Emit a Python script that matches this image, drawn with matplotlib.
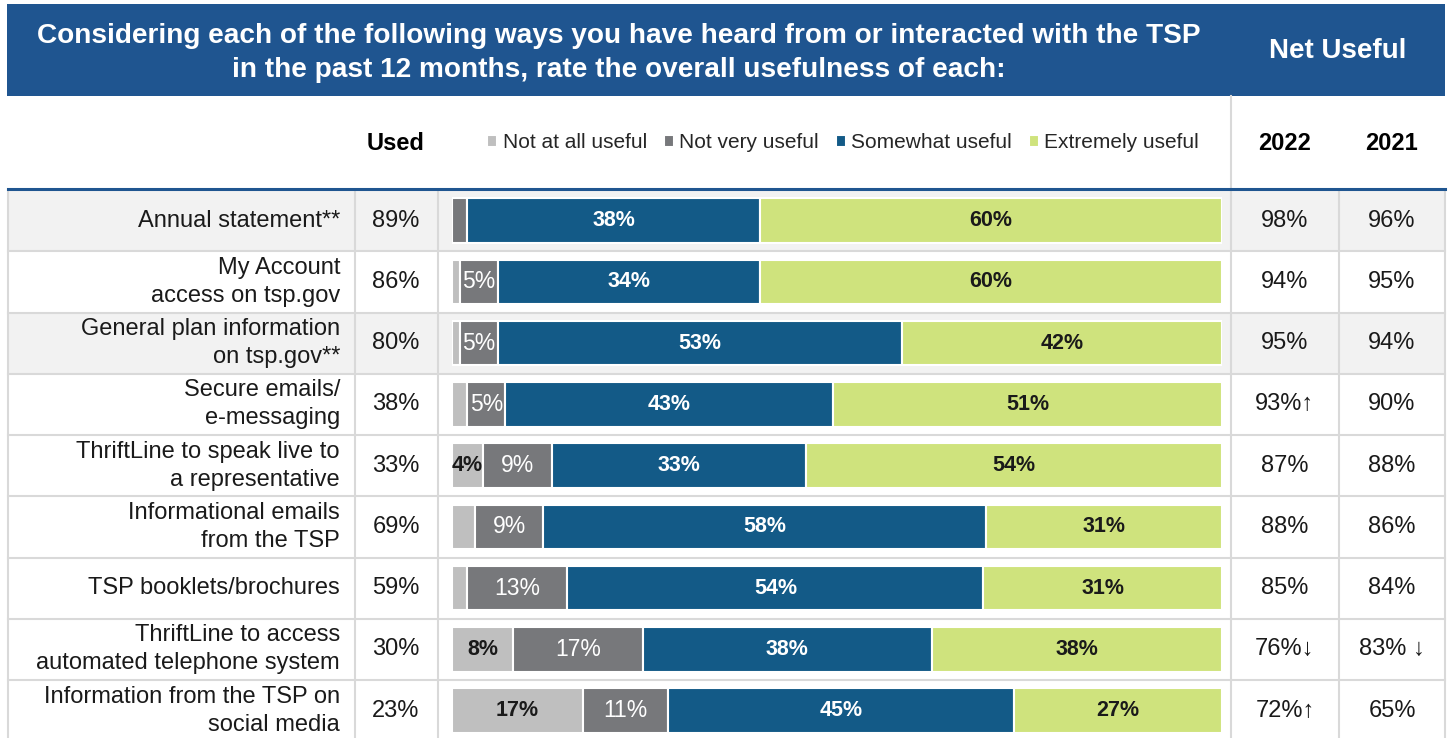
import matplotlib
matplotlib.use('Agg')
import matplotlib.pyplot as plt
from matplotlib.patches import Rectangle
import numpy as np

plt.rcParams['font.family'] = ['Liberation Sans', 'DejaVu Sans']

# data
items = ['Annual statement**', 'My Account\naccess on tsp.gov',
         'General plan information\non tsp.gov**', 'Secure emails/\ne-messaging',
         'ThriftLine to speak live to\na representative', 'Informational emails\nfrom the TSP',
         'TSP booklets/brochures', 'ThriftLine to access\nautomated telephone system',
         'Information from the TSP on\nsocial media']
used = [89, 86, 80, 38, 33, 69, 59, 30, 23]
series = ['Not at all useful', 'Not very useful', 'Somewhat useful', 'Extremely useful']
not_at_all = [0, 1, 1, 2, 4, 3, 2, 8, 17]
not_very = [2, 5, 5, 5, 9, 9, 13, 17, 11]
somewhat = [38, 34, 53, 43, 33, 58, 54, 38, 45]
extremely = [60, 60, 42, 51, 54, 31, 31, 38, 27]
net_2022 = [98, 94, 95, 93, 87, 88, 85, 76, 72]
sig_2022 = ['', '', '', '↑', '', '', '', '↓', '↑']
net_2021 = [96, 95, 94, 90, 88, 86, 84, 83, 65]
sig_2021 = ['', '', '', '', '', '', '', ' ↓', '']

# styling
W, H = 1448, 738
hdr_blue = '#1f5590'
colors = ['#bfbfbf', '#77787b', '#135a87', '#cfe37d']
txt_colors = ['#1a1a1a', 'white', 'white', '#1a1a1a']
txt_weights = ['bold', 'normal', 'bold', 'bold']
txt_sizes = [15.5, 16.5, 15.5, 15.5]
grid = '#d9d9d9'
shade = '#f2f2f2'
dark = '#1a1a1a'

top = 190
row_h = 61.25
n = len(items)

fig = plt.figure(figsize=(W / 100, H / 100), dpi=100)
bg = fig.add_axes([0, 0, 1, 1])
bg.set_xlim(0, W)
bg.set_ylim(H, 0)
bg.axis('off')

# title band
bg.add_patch(Rectangle((7, 4), 1438, 92, fc=hdr_blue, ec='none'))
bg.text(619, 53, 'Considering each of the following ways you have heard from or interacted with the TSP\n'
        'in the past 12 months, rate the overall usefulness of each:',
        ha='center', va='center', color='white', fontsize=20.2, fontweight='bold', linespacing=1.42)
bg.text(1338, 51, 'Net Useful', ha='center', va='center', color='white', fontsize=20, fontweight='bold')

# header row
bg.plot([1231, 1231], [96, 188], color=grid, lw=1.5)
bg.text(396, 143, 'Used', ha='center', va='center', fontsize=17, fontweight='bold', color='black')
bg.text(1285, 143, '2022', ha='center', va='center', fontsize=17, fontweight='bold', color='black')
bg.text(1392, 143, '2021', ha='center', va='center', fontsize=17, fontweight='bold', color='black')

# row shading and grid
for i in range(n):
    y0 = top + i * row_h
    if i in (0, 2):
        bg.add_patch(Rectangle((8, y0), 1437, row_h, fc=shade, ec='none'))
    bg.plot([8, 1445], [y0 + row_h, y0 + row_h], color=grid, lw=1.5)
for x in [8, 355, 438, 1231, 1339, 1445]:
    bg.plot([x, x], [top, top + n * row_h], color=grid, lw=1.5)
bg.plot([8, 1445], [top - 1, top - 1], color=hdr_blue, lw=2.2)

# table text
for i in range(n):
    yc = top + (i + 0.5) * row_h
    bg.text(340, yc, items[i], ha='right', va='center', fontsize=17, color=dark, linespacing=1.35)
    bg.text(396, yc, f'{used[i]}%', ha='center', va='center', fontsize=17, color=dark)
    bg.text(1285, yc, f'{net_2022[i]}%{sig_2022[i]}', ha='center', va='center', fontsize=17, color=dark)
    bg.text(1392, yc, f'{net_2021[i]}%{sig_2021[i]}', ha='center', va='center', fontsize=17, color=dark)

# stacked bars
ax = fig.add_axes([452 / W, 1 - (top + n * row_h) / H, 770 / W, n * row_h / H])
ax.set_xlim(0, 100)
ax.set_ylim(n - 0.5, -0.5)
ax.axis('off')

vals = np.array([not_at_all, not_very, somewhat, extremely], dtype=float)
totals = vals.sum(axis=0)
widths = vals / totals * 100
left = np.zeros(n)
handles = []
ypos = np.arange(n)
for k in range(4):
    bars = ax.barh(ypos, widths[k], left=left, height=0.73, color=colors[k],
                   edgecolor='white', linewidth=1.5, label=series[k])
    handles.append(bars)
    for i in range(n):
        if vals[k][i] >= 4:
            ax.text(left[i] + widths[k][i] / 2, i, f'{int(vals[k][i])}%', ha='center', va='center',
                    color=txt_colors[k], fontweight=txt_weights[k], fontsize=txt_sizes[k])
    left = left + widths[k]

fig.legend(handles=handles, labels=series, loc='center', bbox_to_anchor=(843 / W, 1 - 143 / H),
           ncol=4, frameon=False, fontsize=15, handlelength=0.5, handleheight=0.5,
           handletextpad=0.25, columnspacing=0.8, labelcolor='#262626')

fig.savefig('out.png', dpi=100)
